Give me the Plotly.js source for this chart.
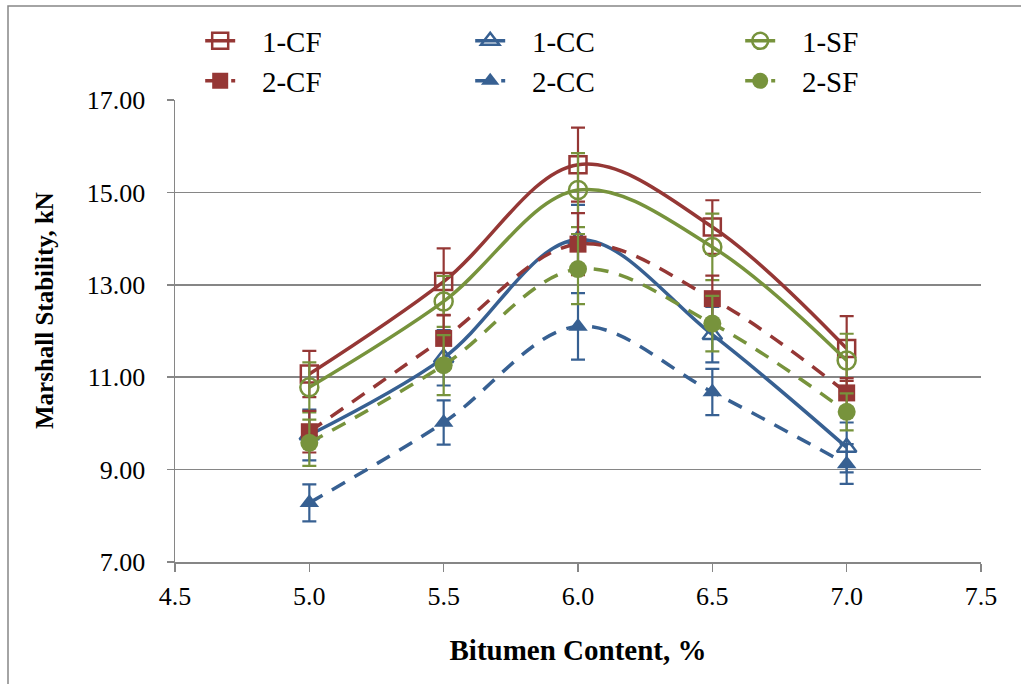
<!DOCTYPE html>
<html>
<head>
<meta charset="utf-8">
<script src="https://cdn.plot.ly/plotly-3.0.1.min.js"></script>
<style>
  html, body { margin: 0; padding: 0; background: #ffffff; }
  #chart { width: 1021px; height: 684px; }
</style>
</head>
<body>
<div id="chart"></div>
<script>
// Bitumen content, %
const bitumen = [5.0, 5.5, 6.0, 6.5, 7.0];

// Marshall stability, kN (mean values)
const cf1 = [11.07, 13.07, 15.60, 14.25, 11.62];
const cc1 = [9.75, 11.42, 13.98, 11.92, 9.48];
const sf1 = [10.78, 12.64, 15.05, 13.82, 11.36];
const cf2 = [9.82, 11.84, 13.88, 12.70, 10.66];
const cc2 = [8.28, 10.02, 12.10, 10.68, 9.12];
const sf2 = [9.58, 11.26, 13.34, 12.16, 10.25];

// Standard deviations, kN
const cf1Err = [0.50, 0.72, 0.80, 0.58, 0.70];
const cc1Err = [0.55, 0.60, 0.75, 0.60, 0.54];
const sf1Err = [0.54, 0.55, 0.80, 0.72, 0.58];
const cf2Err = [0.45, 0.50, 0.67, 0.50, 0.32];
const cc2Err = [0.40, 0.48, 0.72, 0.50, 0.43];
const sf2Err = [0.50, 0.65, 0.76, 0.60, 0.40];

const seriesNames = ['1-CF', '1-CC', '1-SF', '2-CF', '2-CC', '2-SF'];

const RED = '#953735';
const BLUE = '#376092';
const GREEN = '#77933C';
const SERIF = '"Liberation Serif", "Times New Roman", serif';
// extra room between a legend symbol and its label
const LABEL_PAD = '\u00A0\u00A0\u00A0';

// plot area in pixels, used to place items given in paper units
const PLOT_L = 175, PLOT_W = 806, PLOT_B = 562, PLOT_H = 462;
const paperX = px => (px - PLOT_L) / PLOT_W;
const paperY = py => (PLOT_B - py) / PLOT_H;

function series(name, y, err, color, symbol, dashed, legendId) {
  const open = symbol.indexOf('-open') >= 0;
  const round = symbol.indexOf('circle') === 0;
  return {
    type: 'scatter',
    mode: 'lines+markers',
    name: LABEL_PAD + name,
    x: bitumen,
    y: y,
    legend: legendId,
    line: {
      color: color,
      width: 3.5,
      shape: 'spline',
      smoothing: 1,
      dash: dashed ? '15px,11px' : 'solid'
    },
    marker: {
      symbol: symbol,
      size: round ? 18 : 17,
      color: color,
      line: { color: color, width: open ? 2.5 : 0 }
    },
    error_y: {
      type: 'data',
      array: err,
      visible: true,
      color: color,
      thickness: 2.2,
      width: 7
    },
    cliponaxis: false
  };
}

const traces = [
  series(seriesNames[0], cf1, cf1Err, RED, 'square-open', false, 'legend'),
  series(seriesNames[1], cc1, cc1Err, BLUE, 'triangle-up-open', false, 'legend'),
  series(seriesNames[2], sf1, sf1Err, GREEN, 'circle-open', false, 'legend'),
  series(seriesNames[3], cf2, cf2Err, RED, 'square', true, 'legend2'),
  series(seriesNames[4], cc2, cc2Err, BLUE, 'triangle-up', true, 'legend2'),
  series(seriesNames[5], sf2, sf2Err, GREEN, 'circle', true, 'legend2')
];

const legendBase = {
  orientation: 'h',
  xref: 'paper',
  yref: 'paper',
  x: -0.001,
  xanchor: 'left',
  yanchor: 'middle',
  indentation: 26,
  bgcolor: 'rgba(0,0,0,0)',
  borderwidth: 0,
  entrywidth: 199,
  entrywidthmode: 'pixels',
  font: { family: SERIF, size: 29, color: '#000000' }
};

const layout = {
  width: 1021,
  height: 684,
  paper_bgcolor: '#ffffff',
  plot_bgcolor: '#ffffff',
  margin: { l: PLOT_L, r: 40, t: 100, b: 122, autoexpand: false },
  showlegend: true,
  legend: Object.assign({}, legendBase, { y: paperY(41) }),
  legend2: Object.assign({}, legendBase, { y: paperY(81) }),
  xaxis: {
    range: [4.5, 7.5],
    dtick: 0.5,
    tick0: 4.5,
    tickformat: '.1f',
    showgrid: false,
    zeroline: false,
    showline: true,
    linecolor: '#868686',
    linewidth: 1.5,
    ticks: 'outside',
    ticklen: 8,
    tickwidth: 1.5,
    tickcolor: '#868686',
    ticklabelstandoff: 2,
    tickfont: { family: SERIF, size: 26, color: '#000000' },
    title: {
      text: '<b>Bitumen Content, %</b>',
      font: { family: SERIF, size: 29, color: '#000000' },
      standoff: 30
    }
  },
  yaxis: {
    range: [7, 17],
    dtick: 2,
    tick0: 7,
    tickformat: '.2f',
    showgrid: true,
    gridcolor: '#868686',
    gridwidth: 1.5,
    zeroline: false,
    showline: true,
    linecolor: '#868686',
    linewidth: 1.5,
    ticks: 'outside',
    ticklen: 7,
    tickwidth: 1.5,
    tickcolor: '#868686',
    ticklabelstandoff: 16,
    tickfont: { family: SERIF, size: 26, color: '#000000' }
  },
  annotations: [
    {
      text: '<b>Marshall Stability, kN</b>',
      textangle: -90,
      xref: 'paper',
      yref: 'paper',
      x: paperX(44),
      y: paperY(311),
      xanchor: 'center',
      yanchor: 'middle',
      showarrow: false,
      font: { family: SERIF, size: 25, color: '#000000' }
    }
  ],
  shapes: [
    {
      type: 'rect',
      xref: 'paper',
      yref: 'paper',
      x0: paperX(8),
      x1: paperX(1040),
      y0: paperY(700),
      y1: paperY(6),
      line: { color: '#868686', width: 1.5 },
      layer: 'below'
    }
  ]
};

Plotly.newPlot('chart', traces, layout, { displayModeBar: false, staticPlot: true });
</script>
</body>
</html>
